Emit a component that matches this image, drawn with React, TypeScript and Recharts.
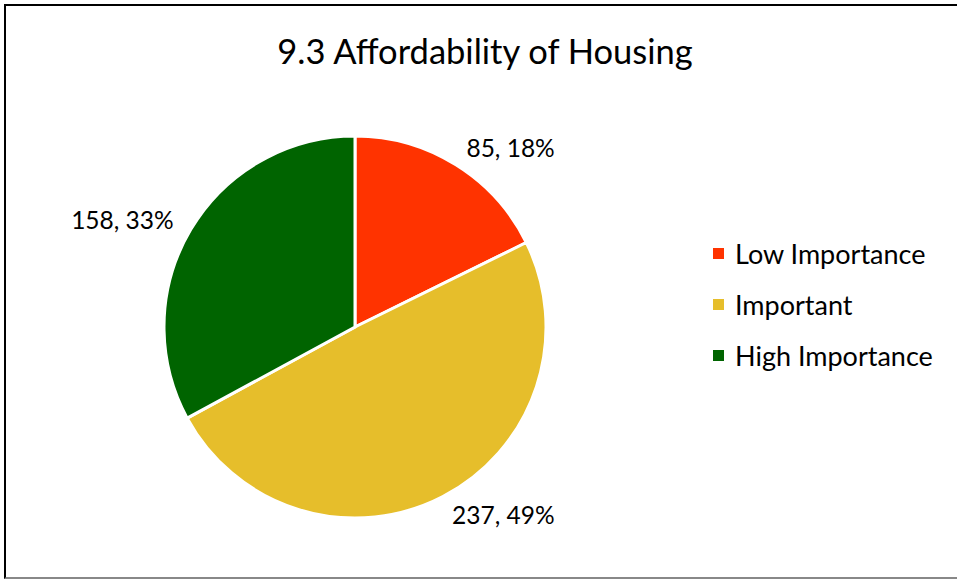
import React from 'react';
import { PieChart, Pie, Cell, Legend, Customized } from 'recharts';

const categories = ['Low Importance', 'Important', 'High Importance'];
const counts = [85, 237, 158];
const percentLabels = ['18%', '49%', '33%'];
const colors = ['#FF3300', '#E6BE2B', '#006400'];
const title = '9.3 Affordability of Housing';

const FONT = 'Lato, "Open Sans", sans-serif';

const data = categories.map((name, i) => ({ name, value: counts[i] }));

const renderLabel = (props: any) => {
  const { x, y, textAnchor, index } = props;
  return (
    <text
      x={x}
      y={y}
      textAnchor={textAnchor}
      dominantBaseline="central"
      fontFamily={FONT}
      fontSize={24.5}
      fill="#000"
    >
      {`${counts[index]}, ${percentLabels[index]}`}
    </text>
  );
};

const renderLegend = () => (
  <div style={{ fontFamily: FONT, fontSize: 27, color: '#000' }}>
    {categories.map((name, i) => (
      <div key={name} style={{ display: 'flex', alignItems: 'center', height: 51 }}>
        <span
          style={{
            display: 'inline-block',
            width: 11,
            height: 11,
            background: colors[i],
            marginRight: 11,
          }}
        />
        <span style={{ lineHeight: '51px' }}>{name}</span>
      </div>
    ))}
  </div>
);

const Title = () => (
  <text x={485} y={50} textAnchor="middle" dominantBaseline="central" fontFamily={FONT} fontSize={34.5} fill="#000">
    {title}
  </text>
);

export default function App() {
  return (
    <div style={{ position: 'absolute', left: 0, top: 0, width: 957, height: 580, overflow: 'hidden', background: '#fff' }}>
      <div
        style={{
          position: 'absolute',
          left: 4,
          top: 4,
          width: 980,
          height: 571,
          border: '2px solid #000',
          borderBottomColor: '#888',
        }}
      />
      <div style={{ position: 'absolute', left: 0, top: 0 }}>
        <PieChart width={957} height={580} margin={{ top: 0, right: 0, bottom: 0, left: 0 }}>
          <Customized component={Title} />
          <Pie
            data={data}
            dataKey="value"
            nameKey="name"
            cx={355}
            cy={327}
            outerRadius={191}
            startAngle={90}
            endAngle={-270}
            stroke="#fff"
            strokeWidth={3}
            label={renderLabel}
            labelLine={false}
            isAnimationActive={false}
          >
            {data.map((d, i) => (
              <Cell key={d.name} fill={colors[i]} />
            ))}
          </Pie>
          <Legend
            layout="vertical"
            verticalAlign="middle"
            align="center"
            content={renderLegend}
            wrapperStyle={{ left: 713, top: 228, width: 240 }}
          />
        </PieChart>
      </div>
    </div>
  );
}
